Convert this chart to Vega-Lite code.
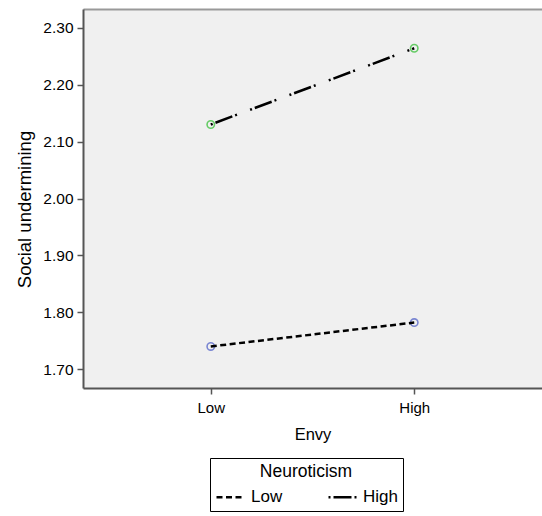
{
  "$schema": "https://vega.github.io/schema/vega-lite/v6.json",
  "width": 459,
  "height": 379,
  "autosize": {"type": "none"},
  "padding": {"left": 83, "top": 9, "right": 0, "bottom": 128},
  "background": "white",
  "config": {
    "font": "Liberation Sans",
    "view": {"fill": "#f0f0f0", "stroke": null},
    "axis": {
      "grid": false,
      "labelColor": "black",
      "titleColor": "black",
      "titleFontWeight": "normal",
      "domainColor": "#555555",
      "domainWidth": 2,
      "tickColor": "#555555",
      "tickWidth": 1.5,
      "tickSize": 6
    }
  },
  "data": {
    "values": [
      {"envy": "Low", "neuroticism": "Low", "undermining": 1.74},
      {"envy": "High", "neuroticism": "Low", "undermining": 1.782},
      {"envy": "Low", "neuroticism": "High", "undermining": 2.13},
      {"envy": "High", "neuroticism": "High", "undermining": 2.264}
    ]
  },
  "encoding": {
    "y": {
      "field": "undermining",
      "type": "quantitative",
      "scale": {"domain": [1.667, 2.333], "nice": false, "zero": false},
      "axis": {
        "title": "Social undermining",
        "values": [1.7, 1.8, 1.9, 2.0, 2.1, 2.2, 2.3],
        "format": ".2f",
        "labelFontSize": 15.5,
        "labelPadding": 4,
        "titleFontSize": 18.5,
        "titlePadding": 8,
        "titleY": 200
      }
    }
  },
  "layer": [
    {
      "transform": [{"filter": "datum.neuroticism == 'Low'"}],
      "mark": {"type": "point", "shape": "circle", "filled": false, "size": 55, "strokeWidth": 1.6, "opacity": 1, "color": "#7a86d2"},
      "encoding": {
        "x": {
          "field": "envy",
          "type": "nominal",
          "sort": ["Low", "High"],
          "scale": {"type": "point", "padding": 0.628},
          "axis": {
            "orient": "top",
            "title": null,
            "labels": false,
            "ticks": false,
            "domainColor": "#999999"
          }
        }
      }
    },
    {
      "transform": [{"filter": "datum.neuroticism == 'High'"}],
      "mark": {"type": "point", "shape": "circle", "filled": false, "size": 55, "strokeWidth": 1.6, "opacity": 1, "color": "#66cc66"},
      "encoding": {
        "x": {
          "field": "envy",
          "type": "nominal",
          "sort": ["Low", "High"],
          "scale": {"type": "point", "padding": 0.628},
          "axis": null
        }
      }
    },
    {
      "mark": {"type": "line", "color": "black", "strokeWidth": 2.5},
      "encoding": {
        "x": {
          "field": "envy",
          "type": "nominal",
          "sort": ["Low", "High"],
          "scale": {"type": "point", "padding": 0.628},
          "axis": {
            "orient": "bottom",
            "title": "Envy",
            "labelAngle": 0,
            "labelFontSize": 15,
            "labelPadding": 6,
            "titleFontSize": 16.5,
            "titlePadding": 11
          }
        },
        "strokeDash": {
          "field": "neuroticism",
          "type": "nominal",
          "scale": {"domain": ["Low", "High"], "range": [[6, 3.5], [2, 3, 18, 3, 2, 14]]},
          "legend": {
            "title": "Neuroticism",
            "orient": "none",
            "legendX": 127,
            "legendY": 449,
            "direction": "horizontal",
            "titleAnchor": "middle",
            "titleFontSize": 17.5,
            "titleFontWeight": "normal",
            "titleColor": "black",
            "titlePadding": 1,
            "labelFontSize": 17,
            "labelColor": "black",
            "labelOffset": 5,
            "symbolType": "stroke",
            "symbolSize": 784,
            "symbolStrokeWidth": 2.5,
            "symbolStrokeColor": "black",
            "columnPadding": 40,
            "padding": 5,
            "strokeColor": "black",
            "fillColor": "white"
          }
        }
      }
    }
  ],
  "resolve": {"axis": {"x": "independent"}}
}
